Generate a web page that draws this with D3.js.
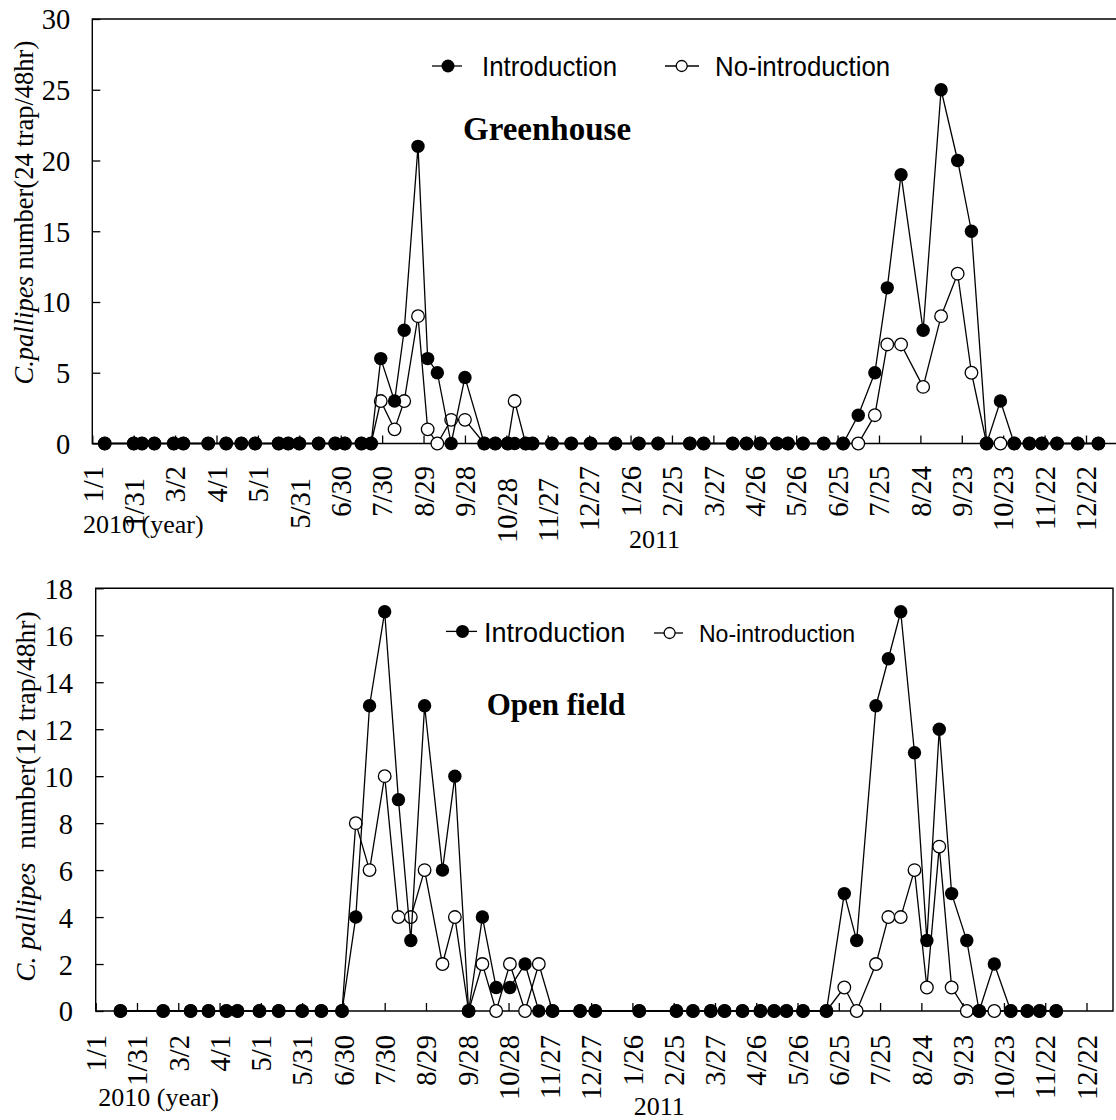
<!DOCTYPE html>
<html>
<head>
<meta charset="utf-8">
<script src="https://cdn.jsdelivr.net/npm/d3@7"></script>
<style>
  body { margin: 0; background: #fff; }
  svg { display: block; }
</style>
</head>
<body>
<svg id="chart" width="1116" height="1120"></svg>
<script>
// Axis ticks every 30 days, 2010-01-01 to 2011-12-22
const tickDates = [
  "2010-01-01","2010-01-31","2010-03-02","2010-04-01","2010-05-01","2010-05-31",
  "2010-06-30","2010-07-30","2010-08-29","2010-09-28","2010-10-28","2010-11-27",
  "2010-12-27","2011-01-26","2011-02-25","2011-03-27","2011-04-26","2011-05-26",
  "2011-06-25","2011-07-25","2011-08-24","2011-09-23","2011-10-23","2011-11-22",
  "2011-12-22"
];
const greenhouseYTicks = [0, 5, 10, 15, 20, 25, 30];
const openFieldYTicks = [0, 2, 4, 6, 8, 10, 12, 14, 16, 18];

// Greenhouse survey (24 traps / 48 hr)
const ghDates = [
  "2010-01-10","2010-01-31","2010-02-06","2010-02-15","2010-03-01","2010-03-08","2010-03-26","2010-04-08",
  "2010-04-19","2010-04-29","2010-05-16","2010-05-23","2010-05-31","2010-06-14","2010-06-26","2010-07-03",
  "2010-07-15","2010-07-22","2010-07-29","2010-08-08","2010-08-15","2010-08-25","2010-09-01","2010-09-08",
  "2010-09-18","2010-09-28","2010-10-12","2010-10-20","2010-10-29","2010-11-03","2010-11-11","2010-11-16",
  "2010-11-30","2010-12-14","2010-12-28","2011-01-15","2011-02-01","2011-02-15","2011-03-10","2011-03-20",
  "2011-04-10","2011-04-20","2011-04-30","2011-05-12","2011-05-20","2011-05-31","2011-06-15","2011-06-29",
  "2011-07-10","2011-07-22","2011-07-31","2011-08-10","2011-08-26","2011-09-08","2011-09-20","2011-09-30",
  "2011-10-11","2011-10-21","2011-10-31","2011-11-11","2011-11-20","2011-12-01","2011-12-16","2011-12-31"
];
const ghIntro = [
  0,0,0,0,0,0,0,0, 0,0,0,0,0,0,0,0,
  0,0,6,3,8,21,6,5, 0,4.67,0,0,0,0,0,0,
  0,0,0,0,0,0,0,0, 0,0,0,0,0,0,0,0,
  2,5,11,19,8,25,20,15, 0,3,0,0,0,0,0,0
];
const ghNoIntro = [
  0,0,0,0,0,0,0,0, 0,0,0,0,0,0,0,0,
  0,0,3,1,3,9,1,0, 1.67,1.67,0,0,0,3,0,0,
  0,0,0,0,0,0,0,0, 0,0,0,0,0,0,0,0,
  0,2,7,7,4,9,12,5, 0,0,0,0,0,0,0,0
];

// Open field survey (12 traps / 48 hr)
const ofDates = [
  "2010-01-19","2010-02-19","2010-03-11","2010-03-24","2010-04-06","2010-04-14","2010-04-30","2010-05-14",
  "2010-05-31","2010-06-14","2010-06-29","2010-07-09","2010-07-19","2010-07-30","2010-08-09","2010-08-18",
  "2010-08-28","2010-09-10","2010-09-19","2010-09-29","2010-10-09","2010-10-19","2010-10-29","2010-11-09",
  "2010-11-19","2010-11-29","2010-12-19","2010-12-30","2011-01-31","2011-02-27","2011-03-11","2011-03-24",
  "2011-04-03","2011-04-16","2011-04-29","2011-05-09","2011-05-18","2011-05-30","2011-06-16","2011-06-29",
  "2011-07-08","2011-07-22","2011-07-31","2011-08-09","2011-08-19","2011-08-28","2011-09-06","2011-09-15",
  "2011-09-26","2011-10-05","2011-10-16","2011-10-28","2011-11-09","2011-11-18","2011-11-30"
];
const ofIntro = [
  0,0,0,0,0,0,0,0, 0,0,0,4,13,17,9,3,
  13,6,10,0,4,1,1,2, 0,0,0,0,0,0,0,0,
  0,0,0,0,0,0,0,5, 3,13,15,17,11,3,12,5,
  3,0,2,0,0,0,0
];
const ofNoIntro = [
  0,0,0,0,0,0,0,0, 0,0,0,8,6,10,4,4,
  6,2,4,0,2,0,2,0, 2,0,0,0,0,0,0,0,
  0,0,0,0,0,0,0,1, 0,2,4,4,6,1,7,1,
  0,0,0,0,0,0,0
];

const SERIF = "'Liberation Serif', 'Times New Roman', serif";
const SANS = "'Liberation Sans', Arial, sans-serif";
const parse = d3.utcParse("%Y-%m-%d");
const fmt = d3.utcFormat("%-m/%-d");
const svg = d3.select("#chart");

function drawPanel(p) {
  const g = svg.append("g");
  const x = d3.scaleUtc()
    .domain([parse(tickDates[0]), parse(tickDates[tickDates.length - 1])])
    .range([p.left, p.tickEnd]);
  const y = d3.scaleLinear().domain([0, p.yMax]).range([p.bottom, p.top]);

  // plot frame
  const framePath = p.closed
    ? `M${p.left},${p.bottom}V${p.top}H${p.right}V${p.bottom}Z`
    : `M${p.right},${p.top}H${p.left}V${p.bottom}H${p.right}`;
  g.append("path").attr("d", framePath)
    .attr("fill", "none").attr("stroke", "#000").attr("stroke-width", 1.4);

  // y axis
  const ya = g.append("g").attr("transform", `translate(${p.left},0)`)
    .call(d3.axisLeft(y).tickValues(p.yTicks).tickSizeInner(-8).tickSizeOuter(0).tickPadding(p.yPad));
  ya.select(".domain").remove();
  ya.selectAll(".tick line").attr("stroke", "#000").attr("stroke-width", 1.3);
  ya.selectAll(".tick text")
    .attr("font-family", SERIF).attr("font-size", 28.5).attr("fill", "#000").attr("dy", "0.35em");

  // x axis ticks (inward)
  const xa = g.append("g").attr("transform", `translate(0,${p.bottom})`)
    .call(d3.axisBottom(x).tickValues(tickDates.map(parse)).tickSizeInner(-8).tickSizeOuter(0).tickFormat(""));
  xa.select(".domain").remove();
  xa.selectAll(".tick line").attr("stroke", "#000").attr("stroke-width", 1.3);

  // rotated date labels
  g.selectAll(".xlab").data(tickDates).join("text")
    .attr("class", "xlab")
    .attr("transform", d => {
      const lab = fmt(parse(d));
      const dy = p.lowered.includes(lab) ? 12 : 0;
      return `translate(${x(parse(d))},${p.labelTop + dy}) rotate(-90)`;
    })
    .attr("text-anchor", "end").attr("dy", "0.36em")
    .attr("font-family", SERIF).attr("font-size", 28.5).attr("fill", "#000")
    .text(d => fmt(parse(d)));

  // year labels
  g.append("text").attr("x", p.year1[0]).attr("y", p.year1[1])
    .attr("font-family", SERIF).attr("font-size", 26).text("2010 (year)");
  g.append("text").attr("x", p.year2[0]).attr("y", p.year2[1])
    .attr("font-family", SERIF).attr("font-size", 26).text("2011");

  // y axis title
  const yt = g.append("text")
    .attr("transform", `translate(${p.yTitle[0]},${p.yTitle[1]}) rotate(-90)`)
    .attr("text-anchor", "middle").attr("dy", "0.35em")
    .attr("font-family", SERIF).attr("font-size", p.yTitleSize)
    .style("white-space", "pre");
  yt.append("tspan").attr("font-style", "italic").text(p.yTitleItalic);
  yt.append("tspan").text(p.yTitleRest);

  // panel title
  g.append("text").attr("x", p.title[0]).attr("y", p.title[1])
    .attr("text-anchor", "middle").attr("font-family", SERIF)
    .attr("font-weight", "bold").attr("font-size", p.titleSize).text(p.titleText);

  // series
  const line = d3.line().x(d => x(d.date)).y(d => y(d.v));
  const ser = (vals) => p.dates.map((d, i) => ({ date: parse(d), v: vals[i] }));
  const open = ser(p.noIntro), filled = ser(p.intro);

  g.append("path").datum(open).attr("d", line)
    .attr("fill", "none").attr("stroke", "#000").attr("stroke-width", 1.3);
  g.selectAll(".om").data(open).join("circle").attr("class", "om")
    .attr("cx", d => x(d.date)).attr("cy", d => y(d.v)).attr("r", 6.3)
    .attr("fill", "#fff").attr("stroke", "#000").attr("stroke-width", 1.3);

  g.append("path").datum(filled).attr("d", line)
    .attr("fill", "none").attr("stroke", "#000").attr("stroke-width", 1.3);
  g.selectAll(".fm").data(filled).join("circle").attr("class", "fm")
    .attr("cx", d => x(d.date)).attr("cy", d => y(d.v)).attr("r", 6.7)
    .attr("fill", "#000");

  // legend
  const L = p.legend;
  g.append("line").attr("x1", L.i.x1).attr("x2", L.i.x2).attr("y1", L.i.y).attr("y2", L.i.y)
    .attr("stroke", "#000").attr("stroke-width", 1.3);
  g.append("circle").attr("cx", L.i.cx).attr("cy", L.i.y).attr("r", 6.5).attr("fill", "#000");
  g.append("text").attr("transform", `translate(${L.i.tx},${L.i.y}) scale(${L.i.sx},1)`)
    .attr("dy", "0.36em").attr("font-family", SANS).attr("font-size", L.i.fs).text("Introduction");

  g.append("line").attr("x1", L.n.x1).attr("x2", L.n.x2).attr("y1", L.n.y).attr("y2", L.n.y)
    .attr("stroke", "#000").attr("stroke-width", 1.3);
  g.append("circle").attr("cx", L.n.cx).attr("cy", L.n.y).attr("r", 5.5)
    .attr("fill", "#fff").attr("stroke", "#000").attr("stroke-width", 1.3);
  g.append("text").attr("transform", `translate(${L.n.tx},${L.n.y}) scale(${L.n.sx},1)`)
    .attr("dy", "0.36em").attr("font-family", SANS).attr("font-size", L.n.fs).text("No-introduction");
}

drawPanel({
  left: 92.3, tickEnd: 1086, right: 1140, top: 19, bottom: 443.5, closed: false,
  yMax: 30, yTicks: greenhouseYTicks, yPad: 22,
  labelTop: 466, lowered: ["1/31", "5/31", "10/28", "11/27"],
  year1: [83, 533], year2: [629, 548],
  yTitle: [24, 212.6], yTitleSize: 26.5, yTitleItalic: "C.pallipes", yTitleRest: " number(24 trap/48hr)",
  title: [547, 140], titleSize: 33, titleText: "Greenhouse",
  dates: ghDates, intro: ghIntro, noIntro: ghNoIntro,
  legend: {
    i: { x1: 432, x2: 462, cx: 448, y: 66, tx: 482, fs: 27.5, sx: 0.94 },
    n: { x1: 665, x2: 699, cx: 681.7, y: 66, tx: 715, fs: 27.5, sx: 0.94 }
  }
});

drawPanel({
  left: 95.7, tickEnd: 1086.5, right: 1113, top: 588.3, bottom: 1011, closed: true,
  yMax: 18, yTicks: openFieldYTicks, yPad: 22.7,
  labelTop: 1035, lowered: [],
  year1: [98.3, 1106], year2: [633.8, 1115],
  yTitle: [25, 796.6], yTitleSize: 27.5, yTitleItalic: "C. pallipes", yTitleRest: "  number(12 trap/48hr)",
  title: [556, 715], titleSize: 31, titleText: "Open field",
  dates: ofDates, intro: ofIntro, noIntro: ofNoIntro,
  legend: {
    i: { x1: 446, x2: 477, cx: 462.5, y: 631.4, tx: 484, fs: 28.5, sx: 0.95 },
    n: { x1: 654, x2: 683, cx: 669.6, y: 633, tx: 699, fs: 24.5, sx: 0.94 }
  }
});
</script>
</body>
</html>
